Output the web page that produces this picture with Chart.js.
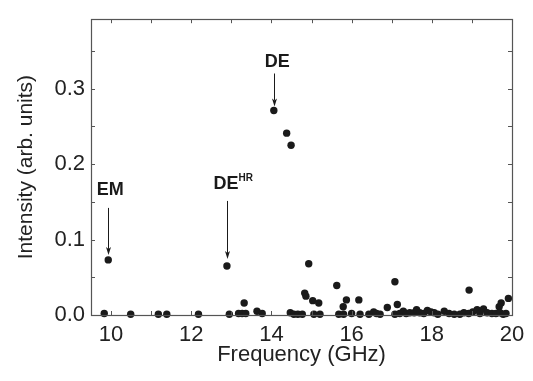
<!DOCTYPE html>
<html>
<head>
<meta charset="utf-8">
<script src="https://cdn.jsdelivr.net/npm/chart.js@4.4.1/dist/chart.umd.min.js"></script>
<style>
  html, body { margin: 0; padding: 0; background: #fff; }
</style>
</head>
<body>
<canvas id="myChart" width="533" height="381"></canvas>
<script>
const freqGHz = [
  9.83, 9.93, 10.49, 11.18, 11.39, 12.18, 12.89, 12.95, 13.18, 13.27,
  13.32, 13.36, 13.64, 13.77, 14.06, 14.38, 14.49, 14.47, 14.56, 14.66,
  14.77, 14.83, 14.86, 14.93, 15.03, 15.06, 15.18, 15.21, 15.63, 15.68,
  15.79, 15.80, 15.87, 16.00, 16.18, 16.21, 16.43, 16.55, 16.62, 16.71,
  16.89, 17.08, 17.08, 17.14, 17.20, 17.29, 17.36, 17.45, 17.56, 17.62,
  17.70, 17.80, 17.89, 17.98, 18.06, 18.15, 18.31, 18.43, 18.56, 18.70,
  18.80, 18.93, 18.92, 19.02, 19.13, 19.20, 19.29, 19.38, 19.50, 19.60,
  19.68, 19.73, 19.70, 19.78, 19.85, 19.91
];
const intensity = [
  0.002, 0.073, 0.001, 0.001, 0.001, 0.001, 0.065, 0.001, 0.002, 0.002,
  0.016, 0.002, 0.005, 0.002, 0.271, 0.241, 0.225, 0.003, 0.001, 0.001,
  0.001, 0.029, 0.025, 0.068, 0.019, 0.001, 0.016, 0.001, 0.039, 0.001,
  0.011, 0.001, 0.020, 0.002, 0.020, 0.001, 0.001, 0.004, 0.002, 0.001,
  0.010, 0.044, 0.001, 0.014, 0.002, 0.005, 0.002, 0.003, 0.003, 0.007,
  0.003, 0.002, 0.006, 0.004, 0.003, 0.001, 0.005, 0.002, 0.001, 0.001,
  0.003, 0.033, 0.002, 0.004, 0.007, 0.002, 0.008, 0.003, 0.002, 0.002,
  0.011, 0.016, 0.003, 0.001, 0.002, 0.022
];

// labelled modes
const modeNames = ['EM', 'DE', 'DE'];
const modeSup = ['', 'HR', ''];
const modeFreq = [9.93, 12.89, 14.06];
const modeInt = [0.073, 0.065, 0.271];

const xTickValues = [10, 12, 14, 16, 18, 20];
const yTickValues = [0.0, 0.1, 0.2, 0.3];

const points = freqGHz.map((f, i) => ({ x: f, y: intensity[i] }));

const FONT = 'Liberation Sans';

// label/arrow placement relative to the marked point (pixels)
const modeLayout = [
  { dx: 2, textDy: -70, arrowTop: -52, arrowTip: -5 },
  { dx: -1, textDy: -82, arrowTop: -65, arrowTip: -7 },
  { dx: 3.5, textDy: -48, arrowTop: -37, arrowTip: -4 }
];

const frameAndTicks = {
  id: 'frameAndTicks',
  afterDraw(chart) {
    const { ctx, chartArea: a, scales: { x, y } } = chart;
    ctx.save();
    ctx.strokeStyle = '#555';
    ctx.lineWidth = 1;
    ctx.beginPath();
    x.ticks.forEach(t => {
      const px = Math.round(x.getPixelForValue(t.value)) + 0.5;
      if (px < a.left + 2 || px > a.right - 2) return;
      ctx.moveTo(px, a.bottom); ctx.lineTo(px, a.bottom - 4);
      ctx.moveTo(px, a.top); ctx.lineTo(px, a.top + 4);
    });
    y.ticks.forEach(t => {
      const py = Math.round(y.getPixelForValue(t.value)) + 0.5;
      if (py < a.top + 2 || py > a.bottom - 2) return;
      ctx.moveTo(a.left, py); ctx.lineTo(a.left + 4, py);
      ctx.moveTo(a.right, py); ctx.lineTo(a.right - 4, py);
    });
    ctx.stroke();
    ctx.lineWidth = 1.2;
    ctx.strokeRect(Math.round(a.left) + 0.5, Math.round(a.top) + 0.5,
      Math.round(a.right - a.left), Math.round(a.bottom - a.top));
    ctx.restore();
  }
};

const modeLabels = {
  id: 'modeLabels',
  afterDatasetsDraw(chart) {
    const { ctx, scales: { x, y } } = chart;
    ctx.save();
    ctx.fillStyle = '#1a1a1a';
    ctx.strokeStyle = '#1a1a1a';
    modeNames.forEach((name, i) => {
      const lay = modeLayout[i];
      const px = x.getPixelForValue(modeFreq[i]);
      const py = y.getPixelForValue(modeInt[i]);
      // text
      ctx.font = 'bold 18px "' + FONT + '"';
      ctx.textBaseline = 'middle';
      ctx.textAlign = 'left';
      const main = ctx.measureText(name).width;
      const left = px + lay.dx - main / 2;
      ctx.fillText(name, left, py + lay.textDy);
      if (modeSup[i]) {
        ctx.font = 'bold 10px "' + FONT + '"';
        ctx.fillText(modeSup[i], left + main, py + lay.textDy - 6);
      }
      // arrow
      const ax = Math.round(px) + 0.5;
      const top = py + lay.arrowTop;
      const tip = py + lay.arrowTip;
      ctx.lineWidth = 1;
      ctx.beginPath();
      ctx.moveTo(ax, top);
      ctx.lineTo(ax, tip - 6);
      ctx.stroke();
      ctx.beginPath();
      ctx.moveTo(ax, tip);
      ctx.lineTo(ax - 2.5, tip - 8);
      ctx.lineTo(ax, tip - 6);
      ctx.lineTo(ax + 2.5, tip - 8);
      ctx.closePath();
      ctx.fill();
    });
    ctx.restore();
  }
};

const ctx = document.getElementById('myChart').getContext('2d');

const config = {
  type: 'scatter',
  data: {
    datasets: [{
      data: points,
      backgroundColor: '#1a1a1a',
      borderWidth: 0,
      pointRadius: 3.7,
      pointHoverRadius: 3.7,
      clip: false
    }]
  },
  options: {
    responsive: false,
    animation: false,
    events: [],
    layout: { padding: { top: 6, right: 21, left: 0, bottom: 0 } },
    plugins: { legend: { display: false }, tooltip: { enabled: false } },
    scales: {
      x: {
        type: 'linear',
        position: 'bottom',
        min: 9.5,
        max: 20,
        afterFit(scale) { scale.height = 66; },
        grid: { display: false, drawTicks: false },
        border: { display: false },
        ticks: {
          stepSize: 1,
          includeBounds: false,
          autoSkip: false,
          maxRotation: 0,
          padding: 7,
          color: '#222',
          font: { family: FONT, size: 22 },
          callback: v => xTickValues.includes(Math.round(v * 1000) / 1000) ? String(Math.round(v)) : ''
        },
        title: {
          display: true,
          text: 'Frequency (GHz)',
          color: '#222',
          font: { family: FONT, size: 22 },
          padding: { top: 0, bottom: 13 }
        }
      },
      y: {
        type: 'linear',
        min: 0,
        max: 0.392,
        afterFit(scale) { scale.width = 91; },
        grid: { display: false, drawTicks: false },
        border: { display: false },
        ticks: {
          stepSize: 0.05,
          includeBounds: false,
          autoSkip: false,
          padding: 6,
          color: '#222',
          font: { family: FONT, size: 22 },
          callback: v => {
            const r = Math.round(v * 100) / 100;
            return yTickValues.some(t => Math.abs(t - r) < 1e-6) ? r.toFixed(1) : '';
          }
        },
        title: {
          display: true,
          text: 'Intensity (arb. units)',
          color: '#222',
          font: { family: FONT, size: 21 },
          padding: { top: 14, bottom: 0 }
        }
      }
    }
  },
  plugins: [frameAndTicks, modeLabels]
};

const chart = new Chart(ctx, config);
</script>
</body>
</html>
